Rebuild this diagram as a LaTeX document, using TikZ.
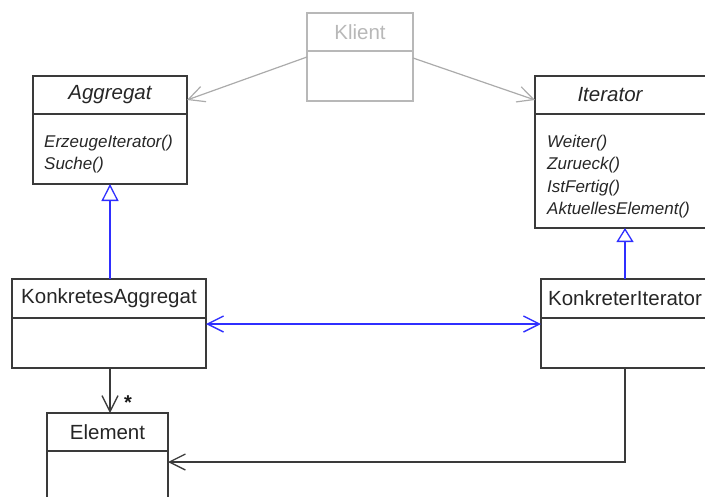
\documentclass[tikz,border=0pt]{standalone}
\usepackage{fontspec}
\setmainfont{Liberation Sans}
\usetikzlibrary{arrows.meta}
\definecolor{boxline}{HTML}{3A3A3A}
\definecolor{clientgray}{HTML}{B8B8B8}
\definecolor{clientlink}{HTML}{ABABAB}
\definecolor{linkblue}{HTML}{2F2FFF}

\begin{document}
\begin{tikzpicture}[x=1pt,y=-1pt,
  box/.style={draw=boxline, line width=1.4pt, rectangle, inner sep=0pt,
    outer sep=0pt, anchor=north west, text=black!85,
    font=\fontsize{20.5}{24}\selectfont},
  clientbox/.style={box, draw=clientgray, text=clientgray},
  method/.style={anchor=base west, inner sep=0pt, text=black!85,
    font=\fontsize{17}{20}\selectfont\itshape},
  vtip/.tip={Straight Barb[length=16pt,width=16pt]},
  uses/.style={draw=clientlink, line width=1.2pt, -vtip},
  assoc/.style={draw=boxline, line width=1.3pt, -vtip},
  link/.style={draw=linkblue, line width=1.4pt, vtip-vtip},
  inherit/.style={draw=linkblue, line width=1.3pt,
    -{Triangle[length=#1,width=17pt,fill=white]}},
  inherit/.default=16pt
]
\useasboundingbox (0,0) rectangle (705,496);
\clip (0,0) rectangle (705,496);

% Klient
\node[clientbox, minimum width=106pt, minimum height=38pt] (kl) at (307,13) {Klient};
\node[clientbox, minimum width=106pt, minimum height=50pt] (klb) at (kl.south west) {};

% Aggregat
\node[box, minimum width=154pt, minimum height=38pt] (ag) at (33,76) {\itshape Aggregat};
\node[box, minimum width=154pt, minimum height=70pt] (agb) at (ag.south west) {};
\node[method] (agm1) at (44,147) {ErzeugeIterator()};
\node[method] (agm2) at (44,169) {Suche()};

% Iterator
\node[box, minimum width=180pt, minimum height=38pt] (it) at (535,76) {};
\node[anchor=center, inner sep=0pt, text=black!85,
  font=\fontsize{20.5}{24}\selectfont\itshape] (itname) at (610,95) {Iterator};
\node[box, minimum width=180pt, minimum height=114pt] (itb) at (it.south west) {};
\node[method] (itm1) at (547,147) {Weiter()};
\node[method] (itm2) at (547,169.5) {Zurueck()};
\node[method] (itm3) at (547,192) {IstFertig()};
\node[method] (itm4) at (547,214.5) {AktuellesElement()};

% KonkretesAggregat
\node[box, minimum width=194pt, minimum height=39pt] (ka) at (12,279) {KonkretesAggregat};
\node[box, minimum width=194pt, minimum height=50pt] (kab) at (ka.south west) {};

% KonkreterIterator
\node[box, minimum width=168pt, minimum height=39pt] (ki) at (541,279) {KonkreterIterator};
\node[box, minimum width=168pt, minimum height=50pt] (kib) at (ki.south west) {};

% Element
\node[box, minimum width=121pt, minimum height=38pt] (el) at (47,413) {Element};
\node[box, minimum width=121pt, minimum height=70pt] (elb) at (el.south west) {};

% client dependencies
\draw[uses] ([yshift=19pt]klb.west) -- ([yshift=-5pt]ag.east);
\draw[uses] ([yshift=18pt]klb.east) -- ([yshift=-5pt]it.west);

% generalisations
\draw[inherit=17pt] (agb.south |- ka.north) -- (agb.south);
\draw[inherit=14pt] (ki.north) -- (itb.south);

% concrete aggregate <-> concrete iterator
\draw[link] ([yshift=19pt]kab.east) -- ([yshift=19pt]kib.west);

% element associations
\draw[assoc] (agb.south |- kab.south) -- (agb.south |- el.north);
\node[anchor=base, inner sep=0pt, text=black!90,
  font=\fontsize{20}{20}\selectfont\bfseries] (mult) at (128,409) {*};
\draw[assoc] (kib.south) |- ([yshift=-11pt]elb.north east);
\end{tikzpicture}
\end{document}
